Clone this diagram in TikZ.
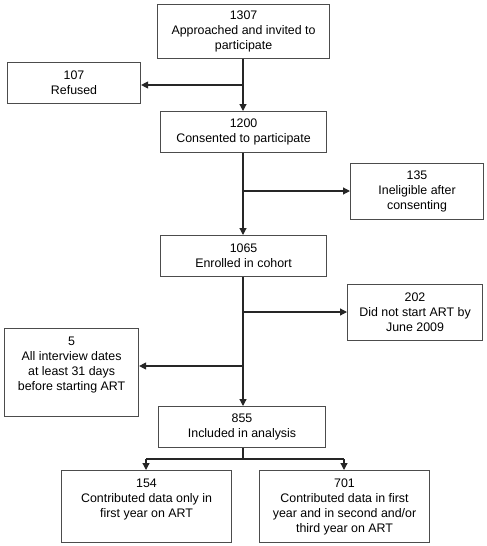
\documentclass[tikz,border=0pt]{standalone}
\usepackage{fontspec}
\setmainfont{Liberation Sans}
\usetikzlibrary{arrows.meta}
\begin{document}
\begin{tikzpicture}[x=1pt,y=-1pt,
  box/.style={draw=black!70,line width=1.1pt,fill=white,align=center,inner sep=0pt,
    font=\fontsize{12.4}{15}\selectfont},
  arr/.style={draw=black!85,line width=1.2pt,-{Triangle[length=7pt,width=7pt]}},
  ln/.style={draw=black!85,line width=1.2pt}]
\useasboundingbox (0,0) rectangle (487,546);
\node[box,minimum width=172,minimum height=54,anchor=north west] (a) at (157,4)
  {1307\\Approached and invited to\\participate};
\node[box,minimum width=133,minimum height=41,anchor=north west] (r) at (7,62)
  {107\\Refused};
\node[box,minimum width=166,minimum height=41,anchor=north west] (c) at (160,111)
  {1200\\Consented to participate};
\node[box,minimum width=133,minimum height=56,anchor=north west] (i) at (350,163)
  {135\\Ineligible after\\consenting};
\node[box,minimum width=166,minimum height=41,anchor=north west] (e) at (160,235)
  {1065\\Enrolled in cohort};
\node[box,minimum width=135,minimum height=56,anchor=north west] (d) at (347,284)
  {202\\Did not start ART by\\June 2009};
\node[box,minimum width=134,minimum height=88,anchor=north west] (f) at (4,328)
  {5\\All interview dates\\at least 31 days\\before starting ART\\[2pt]};
\node[box,minimum width=167,minimum height=41,anchor=north west] (g) at (158,406)
  {855\\Included in analysis};
\node[box,minimum width=170,minimum height=72,anchor=north west] (h) at (61,470)
  {154\\Contributed data only in\\first year on ART\\[1pt]};
\node[box,minimum width=170,minimum height=72,anchor=north west] (k) at (259,470)
  {701\\Contributed data in first\\year and in second and/or\\third year on ART};
\coordinate (p1) at (243,85);
\coordinate (p2) at (243,191);
\coordinate (p3) at (243,312);
\coordinate (p4) at (243,366);
\coordinate (p5) at (243,459);
\coordinate (pl) at (146,459);
\coordinate (pr) at (344,459);
\draw[arr] (a.south -| p1) -- (c.north -| p1);
\draw[arr] (p1) -- (p1 -| r.east);
\draw[arr] (c.south -| p2) -- (e.north -| p2);
\draw[arr] (p2) -- (p2 -| i.west);
\draw[arr] (e.south -| p3) -- (g.north -| p3);
\draw[arr] (p3) -- (p3 -| d.west);
\draw[arr] (p4) -- (p4 -| f.east);
\draw[ln] (g.south -| p5) -- (p5);
\draw[ln] (pl) -- (pr);
\draw[arr] (pl) -- (pl |- h.north);
\draw[arr] (pr) -- (pr |- k.north);
\end{tikzpicture}
\end{document}
